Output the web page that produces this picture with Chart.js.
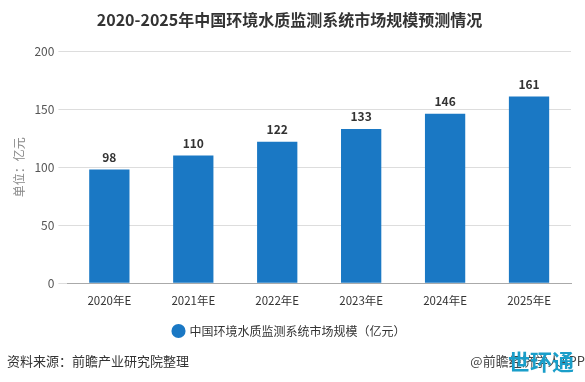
<!DOCTYPE html>
<html><head><meta charset="utf-8">
<script src="https://cdn.jsdelivr.net/npm/chart.js@4/dist/chart.umd.min.js"></script>
<style>html,body{margin:0;padding:0;background:#fff;}#wrap{width:585px;height:382px;position:relative;}</style>
</head><body><div id="wrap"><canvas id="c" width="585" height="382"></canvas></div>
<script>
const categories = ["2020年E","2021年E","2022年E","2023年E","2024年E","2025年E"];
const marketSize = [98,110,122,133,146,161];
const yTicks = [0,50,100,150,200];
const seriesName = "中国环境水质监测系统市场规模（亿元）";
const titleText = "2020-2025年中国环境水质监测系统市场规模预测情况";
const yTitle = "单位：亿元";
const sourceText = "资料来源：前瞻产业研究院整理";
const creditText = "@前瞻经济学人APP";
const logoText = "世环通";
const FONT = "'Noto Sans CJK SC','Noto Sans',sans-serif";
const barColor = "#1a78c4";

const labelPlugin = {
  id: 'labels',
  afterDatasetsDraw(chart){
    const ctx = chart.ctx;
    const meta = chart.getDatasetMeta(0);
    ctx.save();
    ctx.font = "bold 12px " + FONT;
    ctx.fillStyle = "#333";
    ctx.textAlign = "center";
    ctx.textBaseline = "bottom";
    meta.data.forEach((b,i)=>{ ctx.fillText(String(marketSize[i]), b.x, b.y - 6); });
    ctx.restore();
  },
  afterDraw(chart){
    const ctx = chart.ctx;
    ctx.save();
    ctx.font = "13px " + FONT;
    ctx.fillStyle = "#333";
    ctx.textBaseline = "middle";
    ctx.textAlign = "left";
    ctx.fillText(sourceText, 7, 361);
    ctx.textAlign = "right";
    ctx.font = "13px " + FONT;
    ctx.fillStyle = "#444";
    ctx.fillText(creditText, 585, 361);
    ctx.font = "bold 22px " + FONT;
    ctx.fillStyle = "#1a9ec9";
    ctx.textAlign = "left";
    ctx.fillText(logoText, 508, 362);
    ctx.restore();
  }
};

new Chart(document.getElementById('c'), {
  type: 'bar',
  data: { labels: categories, datasets: [{ label: seriesName, data: marketSize, backgroundColor: barColor, barPercentage: 0.48, categoryPercentage: 1 }] },
  options: {
    responsive: false, animation: false,
    layout: { padding: { left: 8, right: 14, top: 4, bottom: 35 } },
    plugins: {
      title: { display: true, text: titleText, color: "#333", font: { family: FONT, size: 16, weight: 'bold' }, padding: { top: 6, bottom: 22 } },
      legend: { position: 'bottom', labels: { usePointStyle: true, pointStyle: 'circle', boxWidth: 10, boxHeight: 10, color: "#333", font: { family: FONT, size: 12 }, padding: 14 } },
      tooltip: { enabled: false }
    },
    scales: {
      x: { grid: { display: false }, border: { color: "#aaa" }, ticks: { color: "#333", font: { family: FONT, size: 11.5 } } },
      y: { min: 0, max: 200, afterBuildTicks(ax){ ax.ticks = yTicks.map(v=>({value:v})); },
           grid: { color: "#ddd", drawTicks: true, tickLength: 9 }, border: { display: false },
           title: { display: true, text: yTitle, color: "#888", font: { family: FONT, size: 12 } },
           ticks: { color: "#555", font: { family: FONT, size: 12 }, padding: 4 } }
    }
  },
  plugins: [labelPlugin]
});
</script></body></html>
